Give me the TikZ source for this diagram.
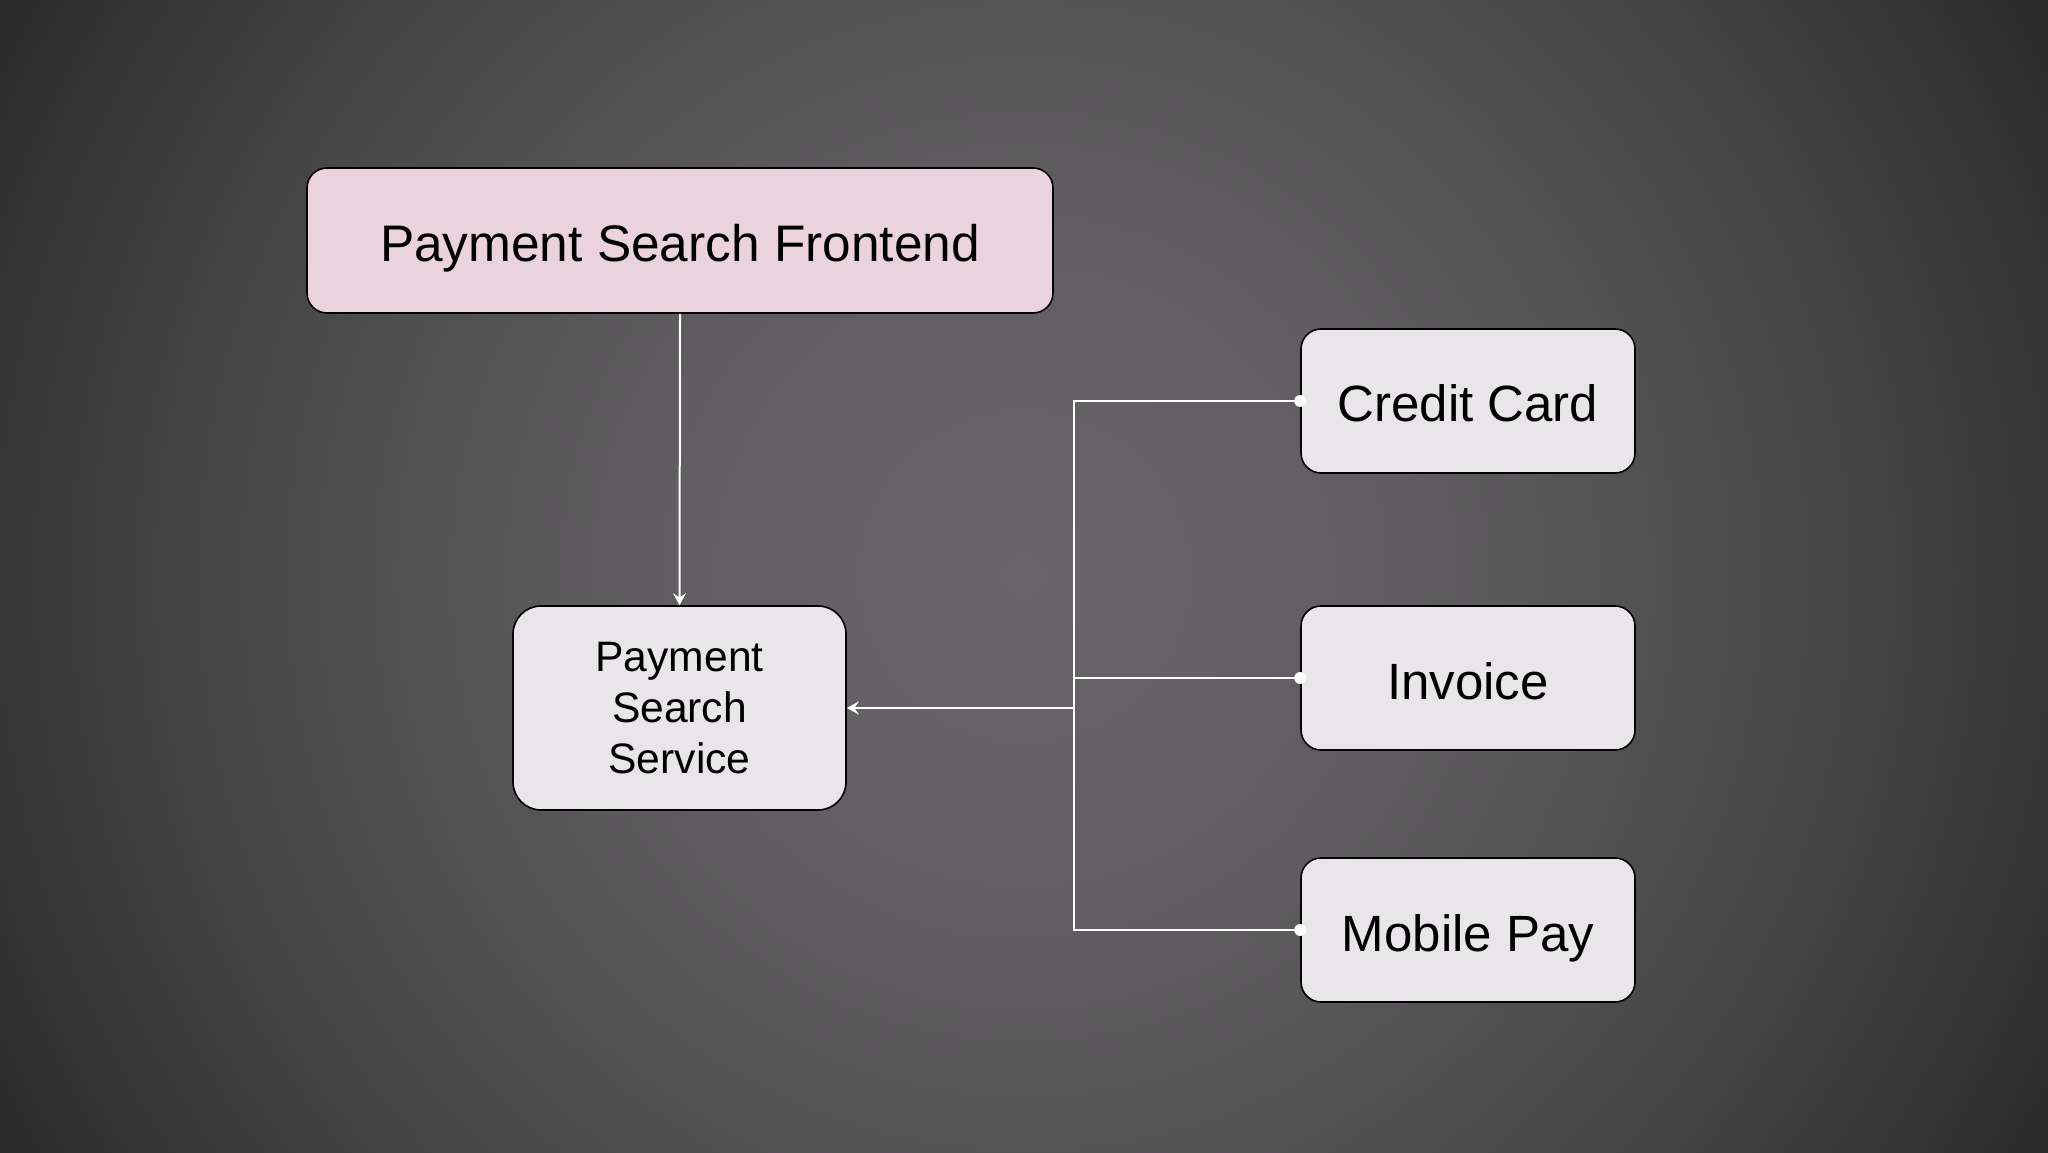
\documentclass[tikz,border=0pt]{standalone}
\usepackage{fontspec}
\setmainfont{Liberation Sans}
\usetikzlibrary{arrows.meta,calc}
\definecolor{bgA}{RGB}{103,101,103}
\definecolor{bgB}{RGB}{95,93,95}
\definecolor{bgC}{RGB}{75,74,75}
\definecolor{bgD}{RGB}{61,61,61}
\definecolor{bgE}{RGB}{46,46,46}
\definecolor{bgF}{RGB}{28,28,28}
\definecolor{bgG}{RGB}{10,10,10}
\definecolor{pinkfill}{RGB}{234,211,220}
\definecolor{greyfill}{RGB}{232,230,232}
\pgfdeclareradialshading{bgshade}{\pgfpoint{0bp}{0bp}}{color(0bp)=(bgA); color(8bp)=(bgB); color(15.6bp)=(bgC); color(19.5bp)=(bgD); color(23.4bp)=(bgE); color(27.6bp)=(bgF); color(31.8bp)=(bgG); color(50bp)=(bgG)}
\tikzset{
  boxbase/.style={draw=black, line width=0.8pt, rounded corners=10pt, inner sep=0pt, align=center, text=black},
  frontbox/.style={boxbase, text height=21pt, text depth=0pt, fill=pinkfill, minimum width=373pt, minimum height=72.5pt, font=\fontsize{25.7pt}{30pt}\selectfont},
  svcbox/.style={boxbase, fill=greyfill, rounded corners=14pt, minimum width=166.5pt, minimum height=102pt, font=\fontsize{21.3pt}{25.5pt}\selectfont},
  srcbox/.style={boxbase, text height=21pt, text depth=0pt, fill=greyfill, minimum width=167pt, minimum height=72pt, font=\fontsize{25.5pt}{30pt}\selectfont},
  conn/.style={draw=white, line width=1pt},
  arr/.style={conn, -{Stealth[length=6pt,width=6.5pt,inset=2.2pt]}},
  dotend/.style={fill=white}
}
\begin{document}
\begin{tikzpicture}[x=1pt,y=1pt]
\useasboundingbox (0,0) rectangle (1024,576);
\begin{scope}
\clip (0,0) rectangle (1024,576);
\fill[black] (0,0) rectangle (1024,576);
\shade[shading=bgshade] (-88,-312) rectangle (1112,888);
\end{scope}

\node[frontbox] (fe) at (340,455.75) {Payment Search Frontend};
\node[svcbox] (svc) at (339.75,222) {Payment\\Search\\Service};
\node[srcbox] (cc) at (734,375.5) {Credit Card};
\node[srcbox] (inv) at (734,237) {Invoice};
\node[srcbox] (mp) at (734,111) {Mobile Pay};

\coordinate (busx) at (537,0);
\coordinate (bus) at (svc.east -| busx);

\draw[arr] (fe.south) -- (svc.north);
\draw[conn] (cc.west) -| (bus);
\draw[conn] (mp.west) -| (bus);
\draw[conn] (inv.west) -| (bus);
\draw[arr] (bus) -- (svc.east);

\fill[dotend] (cc.west) circle (3pt);
\fill[dotend] (inv.west) circle (3pt);
\fill[dotend] (mp.west) circle (3pt);
\end{tikzpicture}
\end{document}
